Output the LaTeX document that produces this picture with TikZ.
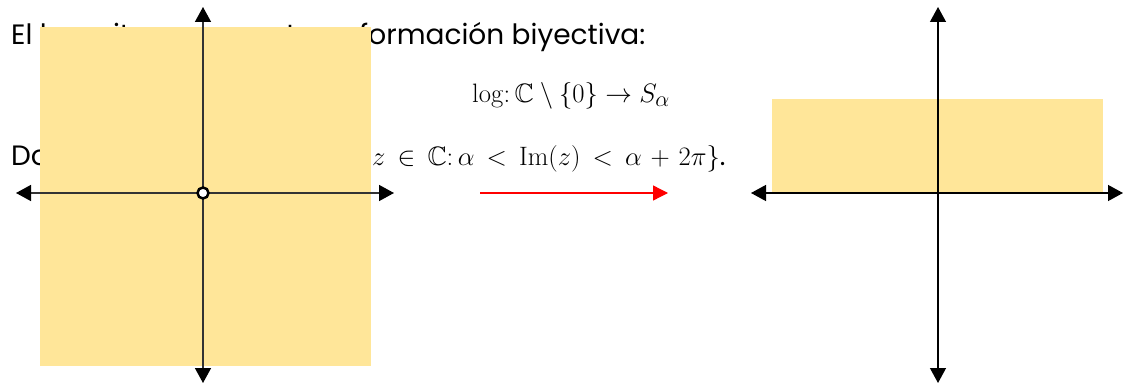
\documentclass[tikz,border=0pt]{standalone}
\usepackage{graphicx}
\usepackage[no-math]{fontspec}
\setmainfont{Poppins}
\usepackage{amssymb}
\usetikzlibrary{arrows.meta}
\definecolor{softyellow}{HTML}{FFE699}
\begin{document}
\begin{tikzpicture}[x=1pt,y=-1pt,
  txt/.style={anchor=base west,inner sep=0pt,font=\fontsize{28}{34}\selectfont},
  mth/.style={anchor=base west,inner sep=0pt,font=\fontsize{24.88}{30}\selectfont},
  region/.style={fill=softyellow,draw=none},
  axisL/.style={draw=black!80,line width=1.5pt,{Triangle[length=15pt,width=16pt,color=black]}-{Triangle[length=15pt,width=16pt,color=black]}},
  axisR/.style={draw=black,line width=1.3pt,{Triangle[length=15pt,width=16pt]}-{Triangle[length=15pt,width=16pt]}},
  maparrow/.style={draw=red,line width=1.3pt,-{Triangle[length=15pt,width=15pt]}},
  hole/.style={circle,draw=black,fill=white,line width=2.5pt,minimum size=11pt,inner sep=0pt}]
\useasboundingbox (0,0) rectangle (1124,385);
% text
\node[txt] (l1a) at (11,45) {El logaritmo es una trans};
\node[txt] (l1b) at (359,45) {formación biyectiva:};
\node[mth] (l2) at (472,103) {\scalebox{1.07}{$\log\colon \mathbb{C}\setminus\{0\}\to S_\alpha$}};
\node[txt] (l3a) at (11,165) {Donde $S_\alpha=\{$};
\node[mth] (l3b) at (372,165) {\scalebox{1.07}{\thickmuskip=8.2mu\medmuskip=6mu$z\in\mathbb{C}\colon \alpha<\mathrm{Im}(z)<\alpha+2\pi\}$.}};
% left plane
\fill[region] (40,27) rectangle (371,366);
\coordinate (Lt) at (203,7);
\coordinate (Lb) at (203,383);
\coordinate (Ll) at (16,193);
\coordinate (Lr) at (394,193);
\draw[axisL] (Lb) -- (Lt);
\draw[axisL] (Ll) -- (Lr);
\node[hole] (origin) at (203,193) {};
% map arrow
\coordinate (Ma) at (480,193);
\coordinate (Mb) at (668,193);
\draw[maparrow] (Ma) -- (Mb);
% right plane
\fill[region] (772,99) rectangle (1103,193);
\coordinate (Rt) at (938,7);
\coordinate (Rb) at (938,383);
\coordinate (Rl) at (751,193);
\coordinate (Rr) at (1123,193);
\draw[axisR] (Rb) -- (Rt);
\draw[axisR] (Rl) -- (Rr);
\end{tikzpicture}
\end{document}
